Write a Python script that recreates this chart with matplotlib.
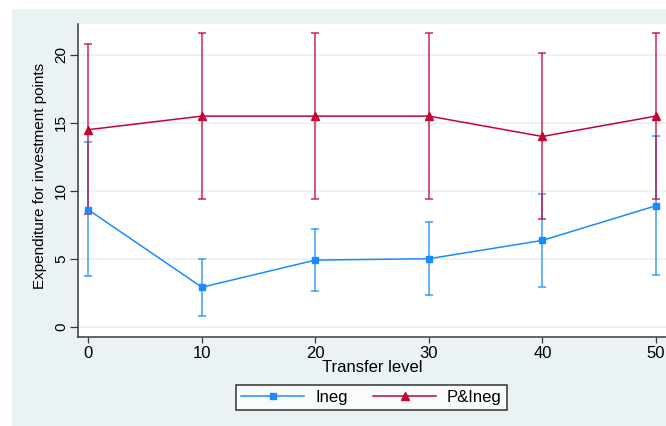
import matplotlib
matplotlib.use("Agg")
import matplotlib.pyplot as plt
from matplotlib.patches import Rectangle

plt.rcParams['font.family'] = ['Liberation Sans', 'DejaVu Sans']

transfer = [0, 10, 20, 30, 40, 50]
ineg_mean = [8.6, 2.9, 4.9, 5.0, 6.35, 8.9]
ineg_low = [3.7, 0.8, 2.6, 2.3, 2.95, 3.8]
ineg_high = [13.6, 5.0, 7.2, 7.7, 9.8, 14.0]
pineg_mean = [14.5, 15.5, 15.5, 15.5, 14.0, 15.5]
pineg_low = [8.3, 9.4, 9.4, 9.4, 7.9, 9.4]
pineg_high = [20.8, 21.6, 21.6, 21.6, 20.15, 21.6]
series_labels = ["Ineg", "P&Ineg"]
xticks = [0, 10, 20, 30, 40, 50]
yticks = [0, 5, 10, 15, 20]

blue = "#1a8cff"
red = "#c10534"
bg = "#eaf2f3"
FS = 12      # horizontal text
FSV = 11     # vertical text

W, H = 666, 426
fig = plt.figure(figsize=(W / 100, H / 100), dpi=100)
fig.patch.set_facecolor("white")
fig.patches.append(Rectangle((11.5 / W, 0), 1, (H - 9) / H, transform=fig.transFigure,
                             facecolor=bg, edgecolor="none", zorder=-10))

left, right, top, bottom = 78.3, 666, 24, 336.7
ax = fig.add_axes([left / W, 1 - bottom / H, (right - left) / W, (bottom - top) / H])
ax.set_facecolor("white")

for mean, lo, hi, col, mk, ms, lab in [
    (ineg_mean, ineg_low, ineg_high, blue, "s", 5, series_labels[0]),
    (pineg_mean, pineg_low, pineg_high, red, "^", 5.5, series_labels[1]),
]:
    yerr = [[m - l for m, l in zip(mean, lo)], [h - m for m, h in zip(mean, hi)]]
    ax.errorbar(transfer, mean, yerr=yerr, fmt="none", ecolor=col, elinewidth=1.1,
                capsize=3, capthick=1.1, alpha=0.85, zorder=2)
    ax.plot(transfer, mean, color=col, marker=mk, markersize=ms, linewidth=1.1,
            label=lab, zorder=3)

ax.set_xlim(-0.89, 50.89)
ax.set_ylim(-0.74, 22.28)
ax.set_xticks(xticks)
ax.set_yticks(yticks)
ax.yaxis.grid(True, color=bg, linewidth=1.3)
ax.set_axisbelow(True)
for s in ["top", "right"]:
    ax.spines[s].set_visible(False)
for s in ["left", "bottom"]:
    ax.spines[s].set_color("#3a3a3a")
    ax.spines[s].set_linewidth(1.1)
ax.tick_params(axis="y", direction="out", length=5.5, width=0.9, color="#3a3a3a",
               labelsize=FSV, labelcolor="black", pad=2)
ax.tick_params(axis="x", direction="out", length=4, width=0.9, color="#3a3a3a",
               labelsize=FS, labelcolor="black", pad=3)
for lbl in ax.get_yticklabels():
    lbl.set_rotation(90)
    lbl.set_va("center")

fig.text(372 / W, 1 - 372.5 / H, "Transfer level", ha="center", va="baseline",
         fontsize=FS)
fig.text(44 / W, 1 - 175.5 / H, "Expenditure for investment points", ha="center",
         va="baseline", rotation=90, rotation_mode="anchor", fontsize=FSV)

leg = fig.legend(loc="center", bbox_to_anchor=(371.5 / W, 1 - 397.5 / H), ncol=2,
                 frameon=True, fancybox=False, fontsize=FS, handlelength=3.77,
                 columnspacing=1.54, borderpad=0.3, handletextpad=0.66,
                 borderaxespad=0)
leg.get_frame().set_edgecolor("black")
leg.get_frame().set_linewidth(1.1)

fig.savefig("out.png", dpi=100)
